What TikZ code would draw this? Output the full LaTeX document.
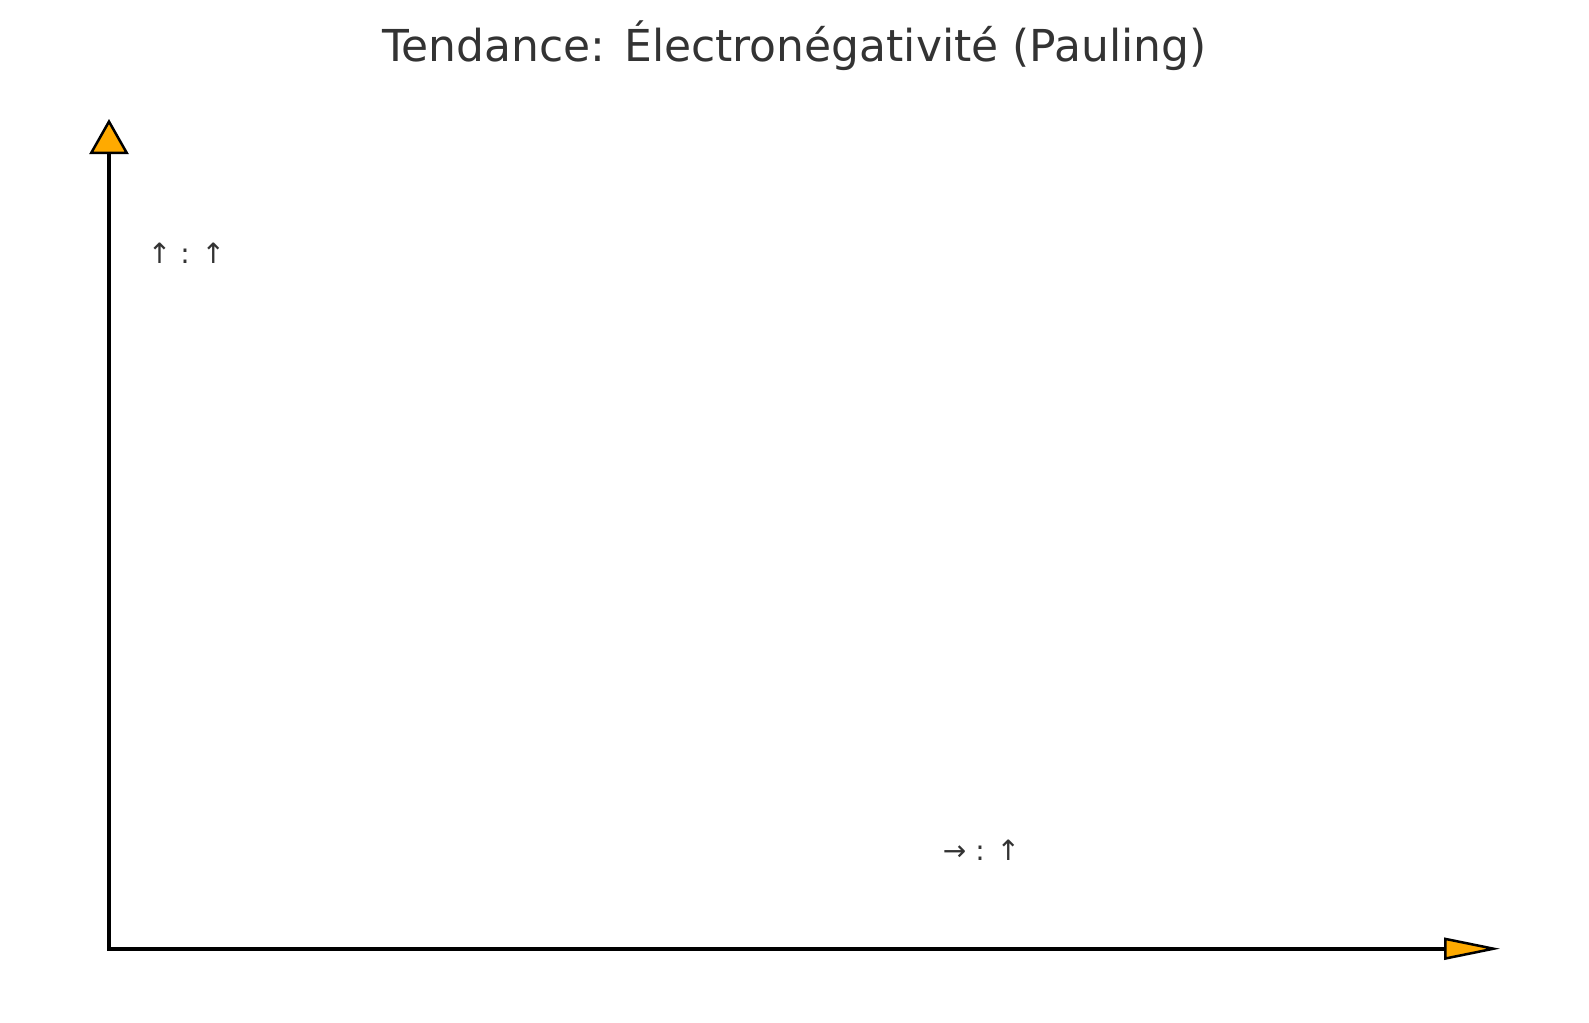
\documentclass[tikz,border=0pt]{standalone}
\usepackage{fontspec}
\setmainfont{DejaVu Sans}
\usetikzlibrary{arrows.meta}
\definecolor{tipfill}{HTML}{FFAA00}
\definecolor{labelgray}{HTML}{333333}
\begin{document}
\begin{tikzpicture}[x=1pt,y=-1pt,
    axis/.style={line width=4pt,line join=miter},
    trend/.style={text=labelgray,font=\fontsize{28}{32}\selectfont,inner sep=0pt}]
            \useasboundingbox (0,0) rectangle (1589,1022);
            \coordinate (origin) at (109,948.7);
            \coordinate (ytip) at (109,119);
            \coordinate (xtip) at (1500,948.7);
            % axes, one path so the corner is square
            \draw[axis,{Triangle[length=35pt,width=39pt,line width=2.5pt,fill=tipfill]}-{Triangle[length=56pt,width=22pt,line width=2.5pt,fill=tipfill]}] (ytip) -- (origin) -- (xtip);
            \node (title) at (794.5,46)[text=labelgray,font=\fontsize{44}{52}\selectfont]{Tendance: Électronégativité (Pauling)};
            \node (ytrend) at (186.5,253)[trend]{↑ : ↑};
            \node (xtrend) at (981.5,850)[trend]{→ : ↑};
        \end{tikzpicture}
\end{document}
